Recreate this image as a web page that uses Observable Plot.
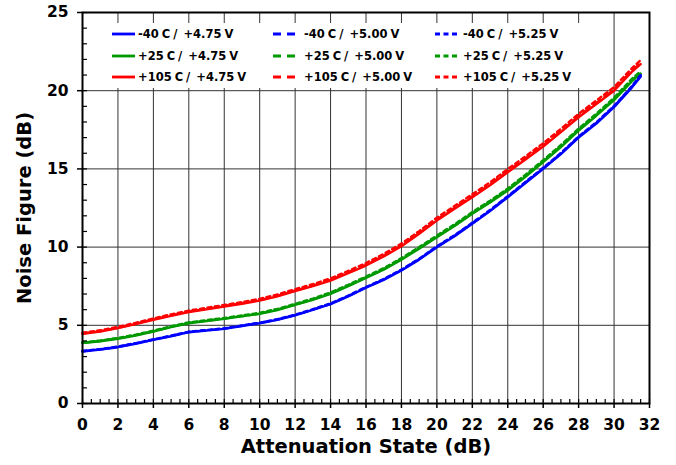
<!DOCTYPE html>
<html>
<head>
<meta charset="utf-8">
<script src="https://cdn.jsdelivr.net/npm/d3@7"></script>
<script src="https://cdn.jsdelivr.net/npm/@observablehq/plot@0.6"></script>
<style>
  html, body { margin: 0; padding: 0; background: #fff; }
  #wrap { position: relative; width: 676px; height: 465px; font-family: "DejaVu Sans", Verdana, sans-serif; }
  #legend { position: absolute; left: 88px; top: 23px; width: 512px; height: 65px; background: #fff; }
  .item { position: absolute; height: 20px; display: flex; align-items: center; font-weight: bold; font-size: 11.5px; white-space: pre; word-spacing: -1px; color: #000; }
  .item svg { margin-right: 3px; }
</style>
</head>
<body>
<div id="wrap"></div>
<script>
// Attenuation states (dB)
const attenuation = [0,1,2,3,4,5,6,7,8,9,10,11,12,13,14,15,16,17,18,19,20,21,22,23,24,25,26,27,28,29,30,31,31.5];

// Noise figure (dB)
const nf_m40_475 = [3.32,3.45,3.6,3.82,4.07,4.3,4.56,4.66,4.77,4.95,5.13,5.35,5.63,5.98,6.35,6.85,7.4,7.9,8.5,9.2,9.99,10.7,11.49,12.3,13.19,14.1,15.0,15.95,17.0,17.9,18.95,20.2,20.9];
const nf_m40_500 = [3.34,3.46,3.62,3.84,4.08,4.32,4.57,4.68,4.79,4.97,5.15,5.37,5.65,6.0,6.37,6.87,7.42,7.93,8.53,9.23,10.02,10.73,11.52,12.33,13.22,14.13,15.03,15.98,17.04,17.94,18.99,20.24,20.95];
const nf_m40_525 = [3.36,3.48,3.64,3.86,4.1,4.34,4.59,4.7,4.81,4.99,5.17,5.39,5.68,6.03,6.4,6.9,7.45,7.96,8.56,9.26,10.05,10.77,11.56,12.37,13.26,14.17,15.07,16.02,17.08,17.98,19.03,20.28,21.0];
const nf_p25_475 = [3.86,3.98,4.14,4.35,4.6,4.88,5.13,5.27,5.41,5.57,5.73,5.98,6.3,6.63,7.01,7.5,8.03,8.55,9.2,9.9,10.63,11.35,12.13,12.85,13.62,14.5,15.43,16.4,17.45,18.4,19.4,20.6,21.1];
const nf_p25_500 = [3.88,4.0,4.16,4.37,4.62,4.9,5.15,5.29,5.43,5.59,5.75,6.0,6.32,6.66,7.04,7.53,8.06,8.59,9.24,9.94,10.67,11.39,12.17,12.9,13.67,14.55,15.48,16.45,17.5,18.45,19.46,20.66,21.16];
const nf_p25_525 = [3.9,4.03,4.19,4.4,4.66,4.94,5.19,5.33,5.47,5.63,5.8,6.05,6.37,6.71,7.1,7.59,8.12,8.65,9.3,10.0,10.74,11.46,12.24,12.97,13.75,14.63,15.56,16.53,17.58,18.53,19.55,20.75,21.25];
const nf_p105_475 = [4.45,4.6,4.82,5.08,5.35,5.6,5.84,6.02,6.2,6.38,6.58,6.85,7.18,7.5,7.86,8.33,8.82,9.4,10.05,10.85,11.7,12.45,13.19,13.95,14.79,15.6,16.43,17.35,18.3,19.15,20.0,21.2,21.7];
const nf_p105_500 = [4.47,4.62,4.84,5.1,5.38,5.63,5.87,6.05,6.23,6.41,6.61,6.88,7.22,7.54,7.9,8.38,8.87,9.45,10.1,10.9,11.76,12.51,13.25,14.01,14.86,15.67,16.5,17.42,18.37,19.22,20.08,21.28,21.78];
const nf_p105_525 = [4.52,4.68,4.9,5.16,5.44,5.7,5.94,6.12,6.3,6.49,6.69,6.97,7.31,7.63,8.0,8.48,8.98,9.56,10.22,11.02,11.88,12.63,13.38,14.14,14.99,15.8,16.64,17.56,18.52,19.37,20.23,21.43,21.95];

const temperatures = ["-40 C", "+25 C", "+105 C"];
const voltages = ["+4.75 V", "+5.00 V", "+5.25 V"];
const tempColors = ["#0000ff", "#009a00", "#ff0000"];
const voltDash = [null, "8,5", "4,3.5"];
const xTicks = [0,2,4,6,8,10,12,14,16,18,20,22,24,26,28,30,32];
const yTicks = [0,5,10,15,20,25];
const xTitle = "Attenuation State (dB)";
const yTitle = "Noise Figure (dB)";

const seriesValues = [
  [nf_m40_475, nf_m40_500, nf_m40_525],
  [nf_p25_475, nf_p25_500, nf_p25_525],
  [nf_p105_475, nf_p105_500, nf_p105_525]
];

const rows = [];
temperatures.forEach((t, ti) => voltages.forEach((v, vi) => {
  seriesValues[ti][vi].forEach((y, i) => rows.push({x: attenuation[i], y, key: t + " / " + v, ti, vi}));
}));

const lineMarks = [];
[0,1,2].forEach(vi => [0,1,2].forEach(ti => {
  lineMarks.push(Plot.line(rows.filter(d => d.ti === ti && d.vi === vi), {
    x: "x", y: "y", stroke: tempColors[ti], strokeWidth: 2.4,
    strokeDasharray: voltDash[vi] || undefined, strokeLinejoin: "round"
  }));
}));

const minorX = d3.range(0, 32.01, 0.5);
const minorY = d3.range(0, 25.01, 1);

const chart = Plot.plot({
  width: 676,
  height: 465,
  marginLeft: 82,
  marginRight: 27,
  marginTop: 12,
  marginBottom: 62,
  style: {fontFamily: "'DejaVu Sans', Verdana, sans-serif", background: "#fff", color: "#000"},
  x: {domain: [0, 32]},
  y: {domain: [0, 25]},
  marks: [
    Plot.gridX(xTicks, {stroke: "#333", strokeOpacity: 1, strokeWidth: 1}),
    Plot.gridY(yTicks.slice(1, -1), {stroke: "#333", strokeOpacity: 1, strokeWidth: 1}),
    ...lineMarks,
    Plot.frame({stroke: "#000", strokeWidth: 2}),
    Plot.axisX(minorX, {tickSize: -4, text: null, label: null, strokeWidth: 1.2}),
    Plot.axisY(minorY, {tickSize: -5, text: null, label: null, strokeWidth: 1.2}),
    Plot.axisX(xTicks, {tickSize: 5, tickPadding: 10, fontSize: 15.5, fontWeight: "bold", label: null, strokeWidth: 1.5}),
    Plot.axisY(yTicks, {tickSize: 5, tickPadding: 9, fontSize: 15.5, fontWeight: "bold", label: null, strokeWidth: 1.5}),
    Plot.text([xTitle], {frameAnchor: "bottom", dy: 49, fontSize: 19.5, fontWeight: "bold", text: d => d}),
    Plot.text([yTitle], {frameAnchor: "left", textAnchor: "middle", dx: -58, rotate: -90, fontSize: 19.5, fontWeight: "bold", text: d => d})
  ]
});

const wrap = document.getElementById("wrap");
wrap.appendChild(chart);

// Legend overlay
const legend = document.createElement("div");
legend.id = "legend";
const colX = [24, 185, 347];
const rowY = [1, 23, 44];
const sampleW = [23, 24, 21];
temperatures.forEach((t, ti) => voltages.forEach((v, vi) => {
  const it = document.createElement("div");
  it.className = "item";
  it.style.left = colX[vi] + "px";
  it.style.top = rowY[ti] + "px";
  const w = sampleW[vi] + (vi === 0 ? 0 : 4);
  const dash = voltDash[vi] ? ` stroke-dasharray="${vi === 1 ? '8,6' : '5,3.5'}"` : "";
  it.innerHTML = `<svg width="${w}" height="10"><line x1="0" y1="5" x2="${w}" y2="5" stroke="${tempColors[ti]}" stroke-width="2.8"${dash}/></svg>`;
  const span = document.createElement("span");
  span.textContent = t + " /  " + v;
  it.appendChild(span);
  legend.appendChild(it);
}));
wrap.appendChild(legend);
</script>
</body>
</html>
